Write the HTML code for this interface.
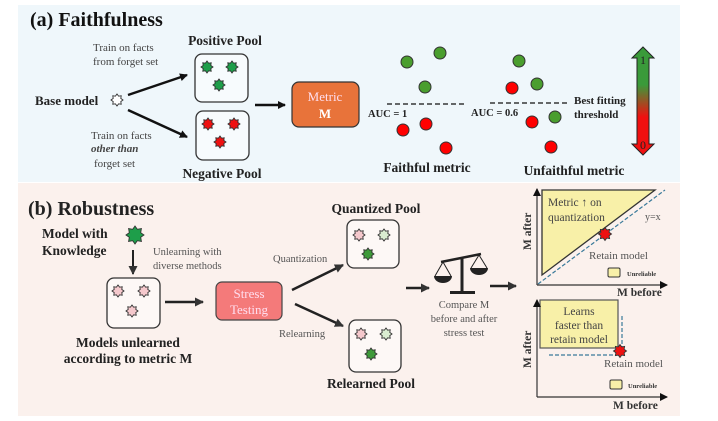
<!DOCTYPE html>
<html><head><meta charset="utf-8"><style>
html,body{margin:0;padding:0;background:#fff}
svg{display:block;font-family:"Liberation Serif",serif}
</style></head><body>
<svg id="s" width="718" height="421" viewBox="0 0 718 421" xmlns="http://www.w3.org/2000/svg">
<defs>
<marker id="ah" markerWidth="8" markerHeight="8" refX="7" refY="4" orient="auto" markerUnits="userSpaceOnUse"><path d="M0,0 L8,4 L0,8 z" fill="#111"/></marker>
<marker id="ah2" markerWidth="9" markerHeight="9" refX="8" refY="4.5" orient="auto" markerUnits="userSpaceOnUse"><path d="M0,0 L9,4.5 L0,9 z" fill="#333"/></marker>
<linearGradient id="gr" x1="0" y1="0" x2="0" y2="1"><stop offset="0" stop-color="#3a9a3a"/><stop offset="0.35" stop-color="#3a9a3a"/><stop offset="0.65" stop-color="#f01010"/><stop offset="1" stop-color="#f01010"/></linearGradient>
</defs>
<rect x="18" y="5" width="662" height="177" fill="#eff7fb"/>
<rect x="18" y="183" width="662" height="233" fill="#fbf1ed"/>

<text x="30" y="26" font-size="20" font-weight="bold" fill="#111">(a) Faithfulness</text>
<text x="225" y="45" font-size="13.5" font-weight="bold" text-anchor="middle" fill="#222">Positive Pool</text>
<rect x="195" y="54" width="53" height="48" rx="7" fill="#f7fbfd" stroke="#333" stroke-width="1.3"/>
<rect x="196" y="111" width="53" height="49" rx="7" fill="#f7fbfd" stroke="#333" stroke-width="1.3"/>
<text x="222" y="178" font-size="13.5" font-weight="bold" text-anchor="middle" fill="#222">Negative Pool</text>
<text x="35" y="105" font-size="13" font-weight="bold" fill="#222">Base model</text>
<g font-size="11" fill="#444"><text x="93" y="51">Train on facts</text><text x="93" y="65">from forget set</text>
<text x="91" y="139">Train on facts</text><text x="91" y="152" font-style="italic" font-weight="bold">other than</text><text x="94" y="167">forget set</text></g>
<line x1="128" y1="95" x2="187" y2="75" stroke="#111" stroke-width="2.5" marker-end="url(#ah)"/>
<line x1="128" y1="110" x2="187" y2="137" stroke="#111" stroke-width="2.5" marker-end="url(#ah)"/>
<line x1="255" y1="105" x2="285" y2="105" stroke="#111" stroke-width="2.5" marker-end="url(#ah)"/>
<rect x="292" y="82" width="67" height="45" rx="7" fill="#e8733a" stroke="#333" stroke-width="1.2"/>
<text x="325" y="101" font-size="13" fill="#fde" text-anchor="middle">Metric</text>
<text x="325" y="118" font-size="13" font-weight="bold" fill="#fff" text-anchor="middle">M</text>

<g stroke="#333" stroke-width="1">
<circle cx="407" cy="62" r="6" fill="#4a9e2e"/><circle cx="440" cy="53" r="6" fill="#4a9e2e"/><circle cx="425" cy="87" r="6" fill="#4a9e2e"/>
<circle cx="403" cy="130" r="6" fill="#f00"/><circle cx="426" cy="124" r="6" fill="#f00"/><circle cx="446" cy="148" r="6" fill="#f00"/>
<circle cx="519" cy="61" r="6" fill="#4a9e2e"/><circle cx="537" cy="84" r="6" fill="#4a9e2e"/><circle cx="555" cy="117" r="6" fill="#4a9e2e"/>
<circle cx="512" cy="88" r="6" fill="#f00"/><circle cx="532" cy="122" r="6" fill="#f00"/><circle cx="551" cy="147" r="6" fill="#f00"/>
</g>
<line x1="387" y1="104" x2="466" y2="104" stroke="#111" stroke-width="1.2" stroke-dasharray="5,3"/>
<line x1="490" y1="103" x2="568" y2="103" stroke="#111" stroke-width="1.2" stroke-dasharray="5,3"/>
<text x="368" y="117" font-size="10.5" font-weight="bold" fill="#222">AUC = 1</text>
<text x="471" y="116" font-size="10.5" font-weight="bold" fill="#222">AUC = 0.6</text>
<text x="574" y="104" font-size="11" font-weight="bold" fill="#222">Best fitting</text>
<text x="574" y="118" font-size="11" font-weight="bold" fill="#222">threshold</text>
<text x="427" y="172" font-size="13.5" font-weight="bold" text-anchor="middle" fill="#222">Faithful metric</text>
<text x="574" y="175" font-size="13.5" font-weight="bold" text-anchor="middle" fill="#222">Unfaithful metric</text>
<path d="M643,47 L654,58 L649,58 L649,144 L654,144 L643,155 L632,144 L637,144 L637,58 L632,58 Z" fill="url(#gr)" stroke="#222" stroke-width="1"/>
<text x="643" y="64" font-size="12" text-anchor="middle" fill="#222">1</text>
<text x="643" y="149" font-size="12" text-anchor="middle" fill="#222">0</text>

<text x="28" y="215" font-size="20" font-weight="bold" fill="#222">(b) Robustness</text>
<text x="42" y="238" font-size="13.5" font-weight="bold" fill="#222">Model with</text>
<text x="42" y="255" font-size="13.5" font-weight="bold" fill="#222">Knowledge</text>
<line x1="133" y1="250" x2="133" y2="274" stroke="#222" stroke-width="2" marker-end="url(#ah2)"/>
<text x="153" y="255" font-size="10.5" fill="#555">Unlearning with</text>
<text x="153" y="269" font-size="10.5" fill="#555">diverse methods</text>
<rect x="107" y="278" width="53" height="50" rx="7" fill="#fdf8f6" stroke="#333" stroke-width="1.3"/>
<text x="128" y="347" font-size="13.5" font-weight="bold" text-anchor="middle" fill="#222">Models unlearned</text>
<text x="128" y="363" font-size="13.5" font-weight="bold" text-anchor="middle" fill="#222">according to metric M</text>
<line x1="165" y1="302" x2="203" y2="302" stroke="#222" stroke-width="2.5" marker-end="url(#ah2)"/>
<rect x="216" y="282" width="66" height="38" rx="6" fill="#f47a7a" stroke="#444" stroke-width="1.2"/>
<text x="249" y="298" font-size="13" fill="#fde" text-anchor="middle">Stress</text>
<text x="249" y="314" font-size="13" fill="#fde" text-anchor="middle">Testing</text>
<text x="273" y="262" font-size="10.5" fill="#555">Quantization</text>
<text x="279" y="337" font-size="10.5" fill="#555">Relearning</text>
<line x1="292" y1="290" x2="343" y2="265" stroke="#222" stroke-width="2.5" marker-end="url(#ah2)"/>
<line x1="295" y1="304" x2="343" y2="326" stroke="#222" stroke-width="2.5" marker-end="url(#ah2)"/>
<text x="376" y="213" font-size="13.5" font-weight="bold" text-anchor="middle" fill="#222">Quantized Pool</text>
<rect x="347" y="220" width="52" height="48" rx="7" fill="#fdf8f6" stroke="#333" stroke-width="1.3"/>
<rect x="349" y="320" width="52" height="52" rx="7" fill="#fdf8f6" stroke="#333" stroke-width="1.3"/>
<text x="371" y="388" font-size="13.5" font-weight="bold" text-anchor="middle" fill="#222">Relearned Pool</text>
<line x1="406" y1="288" x2="429" y2="288" stroke="#222" stroke-width="2.5" marker-end="url(#ah2)"/>
<line x1="490" y1="286" x2="516" y2="286" stroke="#222" stroke-width="2.5" marker-end="url(#ah2)"/>
<g fill="#222" stroke="#222">
<line x1="441" y1="262" x2="481" y2="254" stroke-width="2.5"/>
<line x1="462" y1="257" x2="462" y2="292" stroke-width="3"/>
<rect x="450" y="291" width="25" height="3" stroke="none"/>
<path d="M443,262 L435,276 M443,262 L451,276 M479,255 L471,268 M479,255 L487,268" stroke-width="1" fill="none"/>
<path d="M434,276 L452,276 A9,7 0 0 1 434,276 Z" stroke="none"/>
<path d="M470,268 L488,268 A9,7 0 0 1 470,268 Z" stroke="none"/>
</g>
<g font-size="10.5" fill="#555" text-anchor="middle"><text x="464" y="308">Compare M</text><text x="464" y="322">before and after</text><text x="464" y="336">stress test</text></g>

<path d="M542,275 L542,190 L655,190 Z" fill="#f8f0a8" stroke="#333" stroke-width="1.3"/>
<line x1="538" y1="284" x2="665" y2="190" stroke="#3a7a9a" stroke-width="1.2" stroke-dasharray="4,2"/>
<line x1="537" y1="285" x2="537" y2="189" stroke="#333" stroke-width="1.2" marker-end="url(#ah)"/>
<line x1="537" y1="285" x2="667" y2="285" stroke="#333" stroke-width="1.2" marker-end="url(#ah)"/>
<text x="548" y="206" font-size="11.5" fill="#444">Metric <tspan font-weight="bold">↑</tspan> on</text>
<text x="548" y="221" font-size="11.5" fill="#444">quantization</text>
<text x="645" y="220" font-size="10" fill="#555">y=x</text>
<text x="589" y="259" font-size="11" fill="#555">Retain model</text>
<rect x="608" y="268" width="12" height="9" rx="1.5" fill="#f8f0a8" stroke="#333"/>
<text x="627" y="276" font-size="6.5" font-weight="bold" fill="#333">Unreliable</text>
<text x="617" y="296" font-size="11.5" font-weight="bold" fill="#333">M before</text>
<text transform="translate(531,250) rotate(-90)" font-size="11.5" font-weight="bold" fill="#333">M after</text>
<rect x="540" y="300" width="78" height="48" fill="#f8f0a8" stroke="#555" stroke-width="1.2"/>
<line x1="622" y1="316" x2="622" y2="352" stroke="#3a7a9a" stroke-width="1.2" stroke-dasharray="4,2"/>
<line x1="549" y1="355" x2="620" y2="355" stroke="#3a7a9a" stroke-width="1.2" stroke-dasharray="4,2"/>
<line x1="537" y1="397" x2="537" y2="300" stroke="#333" stroke-width="1.2" marker-end="url(#ah)"/>
<line x1="537" y1="397" x2="667" y2="397" stroke="#333" stroke-width="1.2" marker-end="url(#ah)"/>
<g font-size="11.5" fill="#444" text-anchor="middle"><text x="579" y="315">Learns</text><text x="579" y="329">faster than</text><text x="579" y="343">retain model</text></g>
<text x="604" y="367" font-size="11" fill="#555">Retain model</text>
<rect x="610" y="380" width="12" height="9" rx="1.5" fill="#f8f0a8" stroke="#333"/>
<text x="628" y="388" font-size="6.5" font-weight="bold" fill="#333">Unreliable</text>
<text x="613" y="409" font-size="11.5" font-weight="bold" fill="#333">M before</text>
<text transform="translate(531,368) rotate(-90)" font-size="11.5" font-weight="bold" fill="#333">M after</text>
<g id="stars"></g>
</svg>
<script>
function star(cx,cy,r,fill,sw){var p=[];for(var i=0;i<16;i++){var a=Math.PI*i/8-Math.PI/2;var rr=i%2?r*0.68:r;p.push((cx+rr*Math.cos(a)).toFixed(1)+","+(cy+rr*Math.sin(a)).toFixed(1));}
return '<polygon points="'+p.join(" ")+'" fill="'+fill+'" stroke="#333" stroke-width="'+(sw||0.9)+'"/>';}
var g="#1e9e4a",r="#ee1111",pk="#f5c8cc",lg="#d9ecd0",dg="#3e9a3a",h="";
h+=star(117,100,6,"#fff");
h+=star(207,67,6,g)+star(232,67,6,g)+star(219,85,6,g);
h+=star(208,124,6,r)+star(234,124,6,r)+star(220,142,6,r);
h+=star(135,235,9,g);
h+=star(118,291,6,pk)+star(144,291,6,pk)+star(132,311,6,pk);
h+=star(359,235,6,pk)+star(384,235,6,lg)+star(368,254,6,dg);
h+=star(361,334,6,pk)+star(386,334,6,lg)+star(371,354,6,dg);
h+=star(605,234,6.5,r)+star(620,351,6.5,r);
document.getElementById("stars").innerHTML=h;
</script>
</body></html>
